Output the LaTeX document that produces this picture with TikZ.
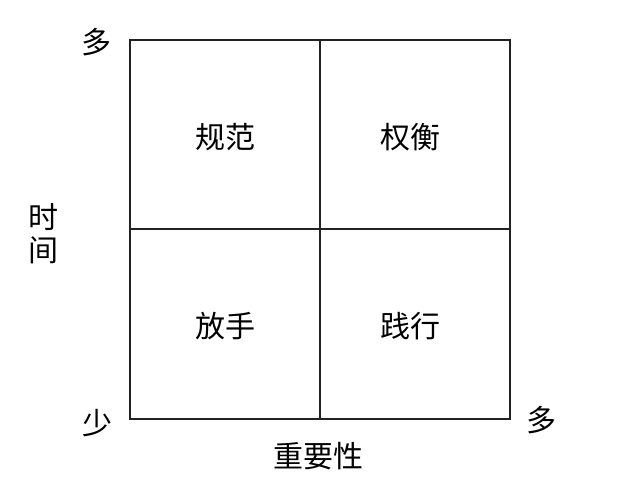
\documentclass[tikz,border=0pt]{standalone}
\usepackage{fontspec}
\usepackage{xcolor}
\usepackage{tikz}
\usetikzlibrary{positioning}
\setmainfont{Noto Sans CJK SC}
\definecolor{GridInk}{HTML}{222222}

\begin{document}
\begin{tikzpicture}[x=1pt, y=-1pt, every node/.style={font=\fontsize{30}{33}\selectfont}]

    \useasboundingbox (0,0) rectangle (640,491);

    \tikzstyle{cell}=[
      draw=GridInk,
      line width=1.8pt,
      inner sep=0pt,
      outer sep=0pt,
      minimum width=190pt,
      minimum height=189.5pt
    ]
    \tikzstyle{axis}=[inner sep=0pt]

    % --- Four quadrants ---
    \node[cell] (topleft) at (225,134.5) {};
    \node[cell] (topright) at (415,134.5) {};
    \node[cell] (bottomleft) at (225,324) {};
    \node[cell] (bottomright) at (415,324) {};

    % --- Quadrant labels ---
    \node (norm) at (225,137) {规范};
    \node (tradeoff) at (410,137) {权衡};
    \node (letgo) at (225,326) {放手};
    \node (practice) at (410,326) {践行};

    % --- Axis labels ---
    \node[axis] (ymax) at (96,42) {多};
    \node[axis, align=center, font=\fontsize{30}{33}\selectfont] (ytitle) at (43,234) {时\\间};
    \node[axis] (origin) at (97,423) {少};
    \node[axis] (xmax) at (541,420) {多};
    \node[axis] (xtitle) at (318,456) {重要性};

  \end{tikzpicture}
\end{document}
